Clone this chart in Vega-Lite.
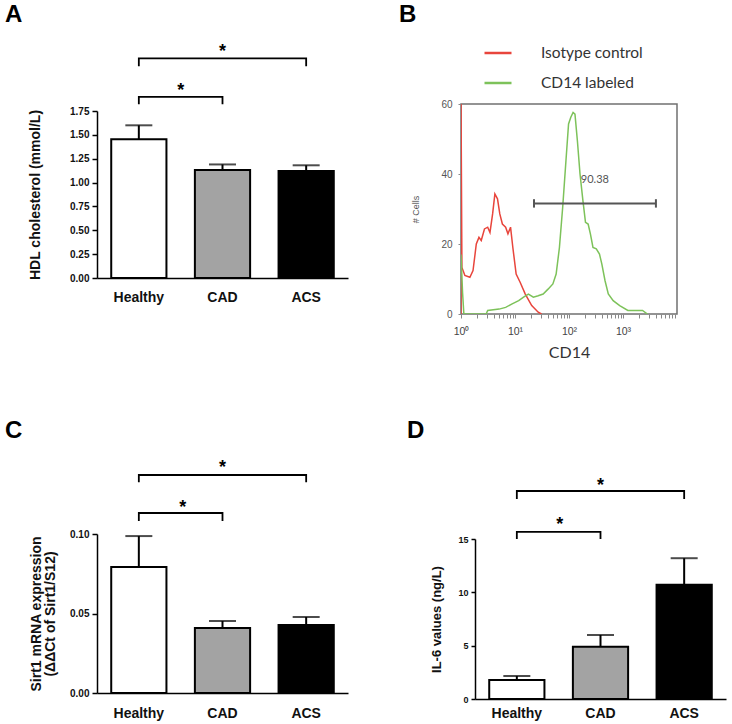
{
  "$schema": "https://vega.github.io/schema/vega-lite/v6.json",
  "padding": {"left": 5, "top": 2, "right": 2, "bottom": 2},
  "background": "white",
  "config": {
    "view": {"stroke": null},
    "font": "Liberation Sans",
    "axis": {"labelFont": "Liberation Sans", "titleFont": "Liberation Sans", "grid": false, "labelOverlap": false},
    "legend": {"labelFont": "Lato"}
  },
  "datasets": {
    "barsA": [
      {"group": "Healthy", "mean": 1.453, "upper": 1.60},
      {"group": "CAD", "mean": 1.132, "upper": 1.19},
      {"group": "ACS", "mean": 1.121, "upper": 1.181}
    ],
    "bracketsA": [
      {"b": "b1", "i": 0, "group": "Healthy", "y": 1.82},
      {"b": "b1", "i": 1, "group": "Healthy", "y": 1.897},
      {"b": "b1", "i": 2, "group": "CAD", "y": 1.897},
      {"b": "b1", "i": 3, "group": "CAD", "y": 1.82},
      {"b": "b2", "i": 0, "group": "Healthy", "y": 2.22},
      {"b": "b2", "i": 1, "group": "Healthy", "y": 2.302},
      {"b": "b2", "i": 2, "group": "ACS", "y": 2.302},
      {"b": "b2", "i": 3, "group": "ACS", "y": 2.22}
    ],
    "barsC": [
      {"group": "Healthy", "mean": 0.0792, "upper": 0.0987},
      {"group": "CAD", "mean": 0.0409, "upper": 0.0453},
      {"group": "ACS", "mean": 0.0428, "upper": 0.0478}
    ],
    "bracketsC": [
      {"b": "b1", "i": 0, "group": "Healthy", "y": 0.1082},
      {"b": "b1", "i": 1, "group": "Healthy", "y": 0.1132},
      {"b": "b1", "i": 2, "group": "CAD", "y": 0.1132},
      {"b": "b1", "i": 3, "group": "CAD", "y": 0.1082},
      {"b": "b2", "i": 0, "group": "Healthy", "y": 0.1325},
      {"b": "b2", "i": 1, "group": "Healthy", "y": 0.1371},
      {"b": "b2", "i": 2, "group": "ACS", "y": 0.1371},
      {"b": "b2", "i": 3, "group": "ACS", "y": 0.1325}
    ],
    "barsD": [
      {"group": "Healthy", "mean": 1.78, "upper": 2.16},
      {"group": "CAD", "mean": 4.9, "upper": 6.0},
      {"group": "ACS", "mean": 10.7, "upper": 13.2}
    ],
    "bracketsD": [
      {"b": "b1", "i": 0, "group": "Healthy", "y": 15.0},
      {"b": "b1", "i": 1, "group": "Healthy", "y": 15.66},
      {"b": "b1", "i": 2, "group": "CAD", "y": 15.66},
      {"b": "b1", "i": 3, "group": "CAD", "y": 15.0},
      {"b": "b2", "i": 0, "group": "Healthy", "y": 18.75},
      {"b": "b2", "i": 1, "group": "Healthy", "y": 19.5},
      {"b": "b2", "i": 2, "group": "ACS", "y": 19.5},
      {"b": "b2", "i": 3, "group": "ACS", "y": 18.75}
    ],
    "hist": [
      {"series": "Isotype control", "i": 0, "fl": 1, "count": 0},
      {"series": "Isotype control", "i": 1, "fl": 1, "count": 62},
      {"series": "Isotype control", "i": 2, "fl": 1.04, "count": 13.3},
      {"series": "Isotype control", "i": 3, "fl": 1.18, "count": 11},
      {"series": "Isotype control", "i": 4, "fl": 1.46, "count": 10.5},
      {"series": "Isotype control", "i": 5, "fl": 1.67, "count": 12.4},
      {"series": "Isotype control", "i": 6, "fl": 1.92, "count": 20},
      {"series": "Isotype control", "i": 7, "fl": 2.15, "count": 21.9},
      {"series": "Isotype control", "i": 8, "fl": 2.37, "count": 21},
      {"series": "Isotype control", "i": 9, "fl": 2.72, "count": 24.3},
      {"series": "Isotype control", "i": 10, "fl": 3.12, "count": 24.8},
      {"series": "Isotype control", "i": 11, "fl": 3.44, "count": 23.3},
      {"series": "Isotype control", "i": 12, "fl": 3.85, "count": 28.6},
      {"series": "Isotype control", "i": 13, "fl": 4.24, "count": 34.3},
      {"series": "Isotype control", "i": 14, "fl": 4.74, "count": 32.9},
      {"series": "Isotype control", "i": 15, "fl": 5.23, "count": 28.6},
      {"series": "Isotype control", "i": 16, "fl": 5.84, "count": 25.7},
      {"series": "Isotype control", "i": 17, "fl": 6.71, "count": 24.8},
      {"series": "Isotype control", "i": 18, "fl": 7.4, "count": 22.9},
      {"series": "Isotype control", "i": 19, "fl": 8.27, "count": 24.8},
      {"series": "Isotype control", "i": 20, "fl": 9.12, "count": 19},
      {"series": "Isotype control", "i": 21, "fl": 10.5, "count": 11.4},
      {"series": "Isotype control", "i": 22, "fl": 12.5, "count": 9},
      {"series": "Isotype control", "i": 23, "fl": 15.5, "count": 5.7},
      {"series": "Isotype control", "i": 24, "fl": 20.4, "count": 2.4},
      {"series": "Isotype control", "i": 25, "fl": 26.9, "count": 0.5},
      {"series": "Isotype control", "i": 26, "fl": 31, "count": 0},
      {"series": "CD14 labeled", "i": 0, "fl": 1, "count": 17},
      {"series": "CD14 labeled", "i": 1, "fl": 1.07, "count": 6},
      {"series": "CD14 labeled", "i": 2, "fl": 1.13, "count": 0},
      {"series": "CD14 labeled", "i": 3, "fl": 2.92, "count": 0},
      {"series": "CD14 labeled", "i": 4, "fl": 3.12, "count": 1},
      {"series": "CD14 labeled", "i": 5, "fl": 5.08, "count": 1.4},
      {"series": "CD14 labeled", "i": 6, "fl": 6.71, "count": 1.9},
      {"series": "CD14 labeled", "i": 7, "fl": 8.86, "count": 2.9},
      {"series": "CD14 labeled", "i": 8, "fl": 11.7, "count": 3.8},
      {"series": "CD14 labeled", "i": 9, "fl": 14.4, "count": 4.8},
      {"series": "CD14 labeled", "i": 10, "fl": 17.7, "count": 5.7},
      {"series": "CD14 labeled", "i": 11, "fl": 21.9, "count": 4.8},
      {"series": "CD14 labeled", "i": 12, "fl": 26.9, "count": 5.2},
      {"series": "CD14 labeled", "i": 13, "fl": 33.2, "count": 5.7},
      {"series": "CD14 labeled", "i": 14, "fl": 40.9, "count": 7.1},
      {"series": "CD14 labeled", "i": 15, "fl": 50.3, "count": 8.6},
      {"series": "CD14 labeled", "i": 16, "fl": 57.8, "count": 11.4},
      {"series": "CD14 labeled", "i": 17, "fl": 66.5, "count": 19},
      {"series": "CD14 labeled", "i": 18, "fl": 76.4, "count": 30.5},
      {"series": "CD14 labeled", "i": 19, "fl": 87.8, "count": 43.8},
      {"series": "CD14 labeled", "i": 20, "fl": 98.1, "count": 54.3},
      {"series": "CD14 labeled", "i": 21, "fl": 108, "count": 56.2},
      {"series": "CD14 labeled", "i": 22, "fl": 119, "count": 57.6},
      {"series": "CD14 labeled", "i": 23, "fl": 129, "count": 57.1},
      {"series": "CD14 labeled", "i": 24, "fl": 143, "count": 49.5},
      {"series": "CD14 labeled", "i": 25, "fl": 160, "count": 40},
      {"series": "CD14 labeled", "i": 26, "fl": 181, "count": 32.4},
      {"series": "CD14 labeled", "i": 27, "fl": 202, "count": 26.2},
      {"series": "CD14 labeled", "i": 28, "fl": 226, "count": 25.7},
      {"series": "CD14 labeled", "i": 29, "fl": 249, "count": 22.9},
      {"series": "CD14 labeled", "i": 30, "fl": 278, "count": 19},
      {"series": "CD14 labeled", "i": 31, "fl": 320, "count": 18.6},
      {"series": "CD14 labeled", "i": 32, "fl": 367, "count": 17.1},
      {"series": "CD14 labeled", "i": 33, "fl": 405, "count": 14.3},
      {"series": "CD14 labeled", "i": 34, "fl": 465, "count": 9.5},
      {"series": "CD14 labeled", "i": 35, "fl": 534, "count": 5.7},
      {"series": "CD14 labeled", "i": 36, "fl": 658, "count": 3.8},
      {"series": "CD14 labeled", "i": 37, "fl": 869, "count": 2.4},
      {"series": "CD14 labeled", "i": 38, "fl": 1230, "count": 1},
      {"series": "CD14 labeled", "i": 39, "fl": 1514, "count": 1},
      {"series": "CD14 labeled", "i": 40, "fl": 2300, "count": 1},
      {"series": "CD14 labeled", "i": 41, "fl": 2830, "count": 0}
    ]
  },
  "bounds": "flush",
  "spacing": 430,
  "vconcat": [
    {
      "bounds": "flush",
      "spacing": 113,
      "hconcat": [
        {
          "width": 251,
          "height": 174,
          "title": {"text": "A", "anchor": "start", "frame": "group", "dx": -92, "offset": -3, "baseline": "alphabetic", "fontSize": 24, "fontWeight": "bold", "font": "Liberation Sans", "color": "#000"},
          "layer": [
            {
              "data": {"name": "barsA"},
              "mark": {"type": "rule", "strokeWidth": 2, "color": "#000"},
              "encoding": {
                "x": {"field": "group", "type": "nominal", "sort": null, "scale": {"domain": ["Healthy", "CAD", "ACS"], "paddingInner": 0.34, "paddingOuter": 0.17},
                  "axis": {"title": null, "labelAngle": 0, "ticks": false, "tickSize": 0, "labelPadding": 12, "labelFontSize": 14, "labelFontWeight": "bold", "labelColor": "#111", "domainColor": "#000", "domainWidth": 1.5}},
                "y": {"field": "mean", "type": "quantitative", "scale": {"domain": [0, 1.75], "range": [174, 7], "nice": false, "zero": false},
                  "axis": {"title": "HDL cholesterol (mmol/L)", "values": [0, 0.25, 0.5, 0.75, 1, 1.25, 1.5, 1.75], "tickCount": 12, "labelOverlap": false, "format": ".2f", "labelFontSize": 10, "labelFontWeight": "bold", "labelColor": "#111", "labelPadding": 3, "tickSize": 5, "tickWidth": 1.5, "tickColor": "#000", "domainColor": "#000", "domainWidth": 1.5, "titleFontSize": 14, "titleFontWeight": "bold", "titleColor": "#111", "titlePadding": 27}},
                "y2": {"field": "upper"}
              }
            },
            {
              "data": {"name": "barsA"},
              "mark": {"type": "tick", "thickness": 2, "size": 27, "color": "#000"},
              "encoding": {
                "x": {"field": "group", "type": "nominal", "sort": null},
                "y": {"field": "upper", "type": "quantitative"}
              }
            },
            {
              "data": {"name": "barsA"},
              "mark": {"type": "bar", "stroke": "#000", "strokeWidth": 2},
              "encoding": {
                "x": {"field": "group", "type": "nominal", "sort": null},
                "y": {"field": "mean", "type": "quantitative"},
                "fill": {"field": "group", "type": "nominal", "scale": {"domain": ["Healthy", "CAD", "ACS"], "range": ["#ffffff", "#a3a3a3", "#000000"]}, "legend": null}
              }
            },
            {
              "data": {"name": "bracketsA"},
              "mark": {"type": "line", "strokeWidth": 1.8, "color": "#000"},
              "encoding": {
                "x": {"field": "group", "type": "nominal", "sort": null},
                "y": {"field": "y", "type": "quantitative"},
                "detail": {"field": "b"},
                "order": {"field": "i"}
              }
            },
            {
              "data": {"values": [{"group": "Healthy", "y": 1.903, "s": "*"}]},
              "mark": {"type": "text", "fontSize": 18, "fontWeight": "bold", "baseline": "alphabetic", "dx": 42, "color": "#000"},
              "encoding": {"x": {"field": "group", "type": "nominal", "sort": null}, "y": {"field": "y", "type": "quantitative"}, "text": {"field": "s"}}
            },
            {
              "data": {"values": [{"group": "CAD", "y": 2.317, "s": "*"}]},
              "mark": {"type": "text", "fontSize": 18, "fontWeight": "bold", "baseline": "alphabetic", "color": "#000"},
              "encoding": {"x": {"field": "group", "type": "nominal", "sort": null}, "y": {"field": "y", "type": "quantitative"}, "text": {"field": "s"}}
            }
          ]
        },
        {
          "width": 216,
          "height": 210,
          "view": {"stroke": "#707070", "strokeWidth": 1.5},
          "title": {"text": "B", "anchor": "start", "frame": "group", "dx": -62, "offset": 53, "baseline": "alphabetic", "fontSize": 24, "fontWeight": "bold", "font": "Liberation Sans", "color": "#000"},
          "layer": [
            {
              "data": {"name": "hist"},
              "mark": {"type": "line", "strokeWidth": 1.5, "clip": true},
              "encoding": {
                "x": {"field": "fl", "type": "quantitative", "scale": {"type": "log", "domain": [1, 10000], "nice": false},
                  "axis": {"title": "CD14", "values": [1,2,3,4,5,6,7,8,9,10,20,30,40,50,60,70,80,90,100,200,300,400,500,600,700,800,900,1000,2000,3000,4000,5000,6000,7000,8000,9000],
                    "tickCount": 40,
                    "labelExpr": "datum.value == 1 ? '10⁰' : datum.value == 10 ? '10¹' : datum.value == 100 ? '10²' : datum.value == 1000 ? '10³' : ''",
                    "domain": false, "tickSize": 4, "tickColor": "#888", "labelFontSize": 10.5, "labelColor": "#444", "labelPadding": 8, "labelBound": false, "labelFlush": false,
                    "titleFont": "Lato", "titleFontSize": 16, "titleFontWeight": "normal", "titleColor": "#333", "titlePadding": 8}},
                "y": {"field": "count", "type": "quantitative", "scale": {"domain": [0, 60], "nice": false},
                  "axis": {"title": "# Cells", "values": [0, 20, 40, 60], "domain": false, "tickSize": 3, "tickColor": "#888", "labelFontSize": 10, "labelColor": "#555", "labelPadding": 6,
                    "titleFontSize": 9, "titleFontWeight": "normal", "titleColor": "#555", "titlePadding": 20}},
                "color": {"field": "series", "type": "nominal", "scale": {"domain": ["Isotype control", "CD14 labeled"], "range": ["#e8453c", "#7dc25a"]},
                  "legend": {"orient": "none", "legendX": 386, "legendY": -66, "title": null, "symbolType": "stroke", "symbolStrokeWidth": 2.5, "symbolSize": 729,
                    "labelFont": "Lato", "labelFontSize": 15.5, "labelColor": "#333", "labelOffset": 28, "rowPadding": 6, "padding": 0}},
                "order": {"field": "i"}
              }
            },
            {
              "data": {"values": [{"a": 22.5, "b": 4070, "y": 31.6}]},
              "mark": {"type": "rule", "strokeWidth": 2, "color": "#555"},
              "encoding": {"x": {"field": "a", "type": "quantitative"}, "x2": {"field": "b"}, "y": {"field": "y", "type": "quantitative"}}
            },
            {
              "data": {"values": [{"x": 22.5, "lo": 30.4, "hi": 32.8}, {"x": 4070, "lo": 30.4, "hi": 32.8}]},
              "mark": {"type": "rule", "strokeWidth": 2, "color": "#555"},
              "encoding": {"x": {"field": "x", "type": "quantitative"}, "y": {"field": "lo", "type": "quantitative"}, "y2": {"field": "hi"}}
            },
            {
              "data": {"values": [{"x": 302, "y": 38.3, "t": "90.38"}]},
              "mark": {"type": "text", "fontSize": 11, "color": "#555", "font": "Lato"},
              "encoding": {"x": {"field": "x", "type": "quantitative"}, "y": {"field": "y", "type": "quantitative"}, "text": {"field": "t"}}
            }
          ]
        }
      ]
    },
    {
      "bounds": "flush",
      "spacing": 127,
      "hconcat": [
        {
          "width": 251,
          "height": 159,
          "title": {"text": "C", "anchor": "start", "frame": "group", "dx": -92, "offset": -3, "baseline": "alphabetic", "fontSize": 24, "fontWeight": "bold", "font": "Liberation Sans", "color": "#000"},
          "layer": [
            {
              "data": {"name": "barsC"},
              "mark": {"type": "rule", "strokeWidth": 2, "color": "#000"},
              "encoding": {
                "x": {"field": "group", "type": "nominal", "sort": null, "scale": {"domain": ["Healthy", "CAD", "ACS"], "paddingInner": 0.34, "paddingOuter": 0.17},
                  "axis": {"title": null, "labelAngle": 0, "ticks": false, "tickSize": 0, "labelPadding": 13, "labelFontSize": 14, "labelFontWeight": "bold", "labelColor": "#111", "domainColor": "#000", "domainWidth": 1.5}},
                "y": {"field": "mean", "type": "quantitative", "scale": {"domain": [0, 0.1], "nice": false, "zero": false},
                  "axis": {"title": ["Sirt1 mRNA expression", "(ΔΔCt of Sirt1/S12)"], "values": [0, 0.05, 0.1], "tickCount": 10, "format": ".2f", "labelFontSize": 10, "labelFontWeight": "bold", "labelColor": "#111", "labelPadding": 3, "tickSize": 5, "tickWidth": 1.5, "tickColor": "#000", "domainColor": "#000", "domainWidth": 1.5, "titleFontSize": 14, "titleFontWeight": "bold", "titleColor": "#111", "titlePadding": 12, "titleLineHeight": 14}},
                "y2": {"field": "upper"}
              }
            },
            {
              "data": {"name": "barsC"},
              "mark": {"type": "tick", "thickness": 2, "size": 27, "color": "#000"},
              "encoding": {
                "x": {"field": "group", "type": "nominal", "sort": null},
                "y": {"field": "upper", "type": "quantitative"}
              }
            },
            {
              "data": {"name": "barsC"},
              "mark": {"type": "bar", "stroke": "#000", "strokeWidth": 2},
              "encoding": {
                "x": {"field": "group", "type": "nominal", "sort": null},
                "y": {"field": "mean", "type": "quantitative"},
                "fill": {"field": "group", "type": "nominal", "scale": {"domain": ["Healthy", "CAD", "ACS"], "range": ["#ffffff", "#a3a3a3", "#000000"]}, "legend": null}
              }
            },
            {
              "data": {"name": "bracketsC"},
              "mark": {"type": "line", "strokeWidth": 1.8, "color": "#000"},
              "encoding": {
                "x": {"field": "group", "type": "nominal", "sort": null},
                "y": {"field": "y", "type": "quantitative"},
                "detail": {"field": "b"},
                "order": {"field": "i"}
              }
            },
            {
              "data": {"values": [{"group": "Healthy", "y": 0.1131, "s": "*"}]},
              "mark": {"type": "text", "fontSize": 18, "fontWeight": "bold", "baseline": "alphabetic", "dx": 44, "color": "#000"},
              "encoding": {"x": {"field": "group", "type": "nominal", "sort": null}, "y": {"field": "y", "type": "quantitative"}, "text": {"field": "s"}}
            },
            {
              "data": {"values": [{"group": "CAD", "y": 0.1383, "s": "*"}]},
              "mark": {"type": "text", "fontSize": 18, "fontWeight": "bold", "baseline": "alphabetic", "color": "#000"},
              "encoding": {"x": {"field": "group", "type": "nominal", "sort": null}, "y": {"field": "y", "type": "quantitative"}, "text": {"field": "s"}}
            }
          ]
        },
        {
          "width": 251,
          "height": 165,
          "title": {"text": "D", "anchor": "start", "frame": "group", "dx": -68, "offset": 15, "baseline": "alphabetic", "fontSize": 24, "fontWeight": "bold", "font": "Liberation Sans", "color": "#000"},
          "layer": [
            {
              "data": {"name": "barsD"},
              "mark": {"type": "rule", "strokeWidth": 2, "color": "#000"},
              "encoding": {
                "x": {"field": "group", "type": "nominal", "sort": null, "scale": {"domain": ["Healthy", "CAD", "ACS"], "paddingInner": 0.34, "paddingOuter": 0.17},
                  "axis": {"title": null, "labelAngle": 0, "ticks": false, "tickSize": 0, "labelPadding": 7, "labelFontSize": 14, "labelFontWeight": "bold", "labelColor": "#111", "domainColor": "#000", "domainWidth": 1.5}},
                "y": {"field": "mean", "type": "quantitative", "scale": {"domain": [0, 15], "range": [165, 5], "nice": false, "zero": false},
                  "axis": {"title": "IL-6 values (ng/L)", "values": [0, 5, 10, 15], "tickCount": 10, "labelFontSize": 9, "labelFontWeight": "bold", "labelColor": "#111", "labelPadding": 3, "tickSize": 4, "tickWidth": 1.5, "tickColor": "#000", "domainColor": "#000", "domainWidth": 1.5, "titleFontSize": 13, "titleFontWeight": "bold", "titleColor": "#111", "titlePadding": 14}},
                "y2": {"field": "upper"}
              }
            },
            {
              "data": {"name": "barsD"},
              "mark": {"type": "tick", "thickness": 2, "size": 27, "color": "#000"},
              "encoding": {
                "x": {"field": "group", "type": "nominal", "sort": null},
                "y": {"field": "upper", "type": "quantitative"}
              }
            },
            {
              "data": {"name": "barsD"},
              "mark": {"type": "bar", "stroke": "#000", "strokeWidth": 2},
              "encoding": {
                "x": {"field": "group", "type": "nominal", "sort": null},
                "y": {"field": "mean", "type": "quantitative"},
                "fill": {"field": "group", "type": "nominal", "scale": {"domain": ["Healthy", "CAD", "ACS"], "range": ["#ffffff", "#a3a3a3", "#000000"]}, "legend": null}
              }
            },
            {
              "data": {"name": "bracketsD"},
              "mark": {"type": "line", "strokeWidth": 1.8, "color": "#000"},
              "encoding": {
                "x": {"field": "group", "type": "nominal", "sort": null},
                "y": {"field": "y", "type": "quantitative"},
                "detail": {"field": "b"},
                "order": {"field": "i"}
              }
            },
            {
              "data": {"values": [{"group": "Healthy", "y": 15.87, "s": "*"}]},
              "mark": {"type": "text", "fontSize": 18, "fontWeight": "bold", "baseline": "alphabetic", "dx": 43, "color": "#000"},
              "encoding": {"x": {"field": "group", "type": "nominal", "sort": null}, "y": {"field": "y", "type": "quantitative"}, "text": {"field": "s"}}
            },
            {
              "data": {"values": [{"group": "CAD", "y": 19.53, "s": "*"}]},
              "mark": {"type": "text", "fontSize": 18, "fontWeight": "bold", "baseline": "alphabetic", "color": "#000"},
              "encoding": {"x": {"field": "group", "type": "nominal", "sort": null}, "y": {"field": "y", "type": "quantitative"}, "text": {"field": "s"}}
            }
          ]
        }
      ]
    }
  ]
}
